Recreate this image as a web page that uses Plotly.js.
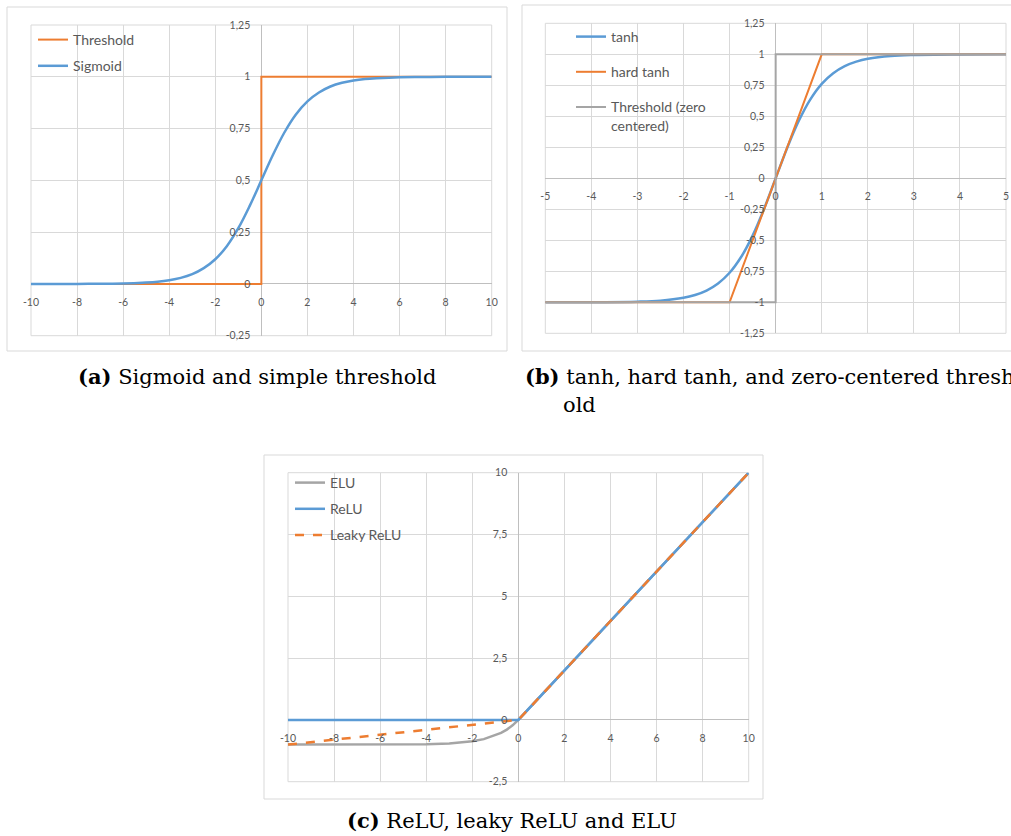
<!DOCTYPE html>
<html><head><meta charset="utf-8">
<script src="https://cdn.plot.ly/plotly-3.0.1.min.js"></script>
<style>html,body{margin:0;padding:0;background:#fff}#chart{width:1011px;height:836px}</style>
</head><body><div id="chart"></div>
<script>
// ---- data ----
// (a) sigmoid and threshold
const sigX = [-10,-9,-8,-7,-6,-5,-4.5,-4,-3.5,-3,-2.5,-2,-1.5,-1,-0.5,0,0.5,1,1.5,2,2.5,3,3.5,4,4.5,5,6,7,8,9,10];
const sigY = [0,0,0,0.001,0.002,0.007,0.011,0.018,0.029,0.047,0.076,0.119,0.182,0.269,0.378,0.5,0.622,0.731,0.818,0.881,0.924,0.953,0.971,0.982,0.989,0.993,0.998,0.999,1,1,1];
const thrX = [-10,0,0,10];
const thrY = [0,0,1,1];
// (b) tanh, hard tanh, zero-centered threshold
const tanhX = [-5,-4,-3,-2.5,-2,-1.75,-1.5,-1.25,-1,-0.75,-0.5,-0.25,0,0.25,0.5,0.75,1,1.25,1.5,1.75,2,2.5,3,4,5];
const tanhY = [-1,-0.999,-0.995,-0.987,-0.964,-0.941,-0.905,-0.848,-0.762,-0.635,-0.462,-0.245,0,0.245,0.462,0.635,0.762,0.848,0.905,0.941,0.964,0.987,0.995,0.999,1];
const hardX = [-5,-1,1,5];
const hardY = [-1,-1,1,1];
const zthrX = [-5,0,0,5];
const zthrY = [-1,-1,1,1];
// (c) ReLU, leaky ReLU, ELU
const eluX = [-10,-8,-6,-5,-4,-3,-2.5,-2,-1.5,-1,-0.75,-0.5,-0.25,0,10];
const eluY = [-1,-1,-0.998,-0.993,-0.982,-0.95,-0.918,-0.865,-0.777,-0.632,-0.528,-0.393,-0.221,0,10];
const reluX = [-10,0,10];
const reluY = [0,0,10];
const leakyX = [-10,0,10];
const leakyY = [-1,0,10];
// tick values and labels
const tickA_x = [-10,-8,-6,-4,-2,0,2,4,6,8,10];
const tickA_xText = ['-10','-8','-6','-4','-2','0','2','4','6','8','10'];
const tickA_y = [-0.25,0,0.25,0.5,0.75,1,1.25];
const tickA_yText = ['-0,25','0','0,25','0,5','0,75','1','1,25'];
const tickB_x = [-5,-4,-3,-2,-1,0,1,2,3,4,5];
const tickB_xText = ['-5','-4','-3','-2','-1','0','1','2','3','4','5'];
const tickB_y = [-1.25,-1,-0.75,-0.5,-0.25,0,0.25,0.5,0.75,1,1.25];
const tickB_yText = ['-1,25','-1','-0,75','-0,5','-0,25','0','0,25','0,5','0,75','1','1,25'];
const tickC_x = [-10,-8,-6,-4,-2,0,2,4,6,8,10];
const tickC_xText = ['-10','-8','-6','-4','-2','0','2','4','6','8','10'];
const tickC_y = [-2.5,0,2.5,5,7.5,10];
const tickC_yText = ['-2,5','0','2,5','5','7,5','10'];
// legend names and captions
const namesA = ['Threshold','Sigmoid'];
const namesB = ['tanh','hard tanh','Threshold (zero<br>centered)'];
const namesC = ['ELU','ReLU','Leaky ReLU'];
const captions = ['<b>(a)</b> Sigmoid and simple threshold','<b>(b)</b> tanh, hard tanh, and zero-centered thresh','old','<b>(c)</b> ReLU, leaky ReLU and ELU'];

// ---- layout ----
const W = 1011, H = 836;
const px = v => v / W, py = v => 1 - v / H;
const BLUE = '#5B9BD5', ORANGE = '#ED7D31', GRAY = '#A5A5A5';
const tickFont = {family:'Lato, "Open Sans", sans-serif', size:10.5, color:'#595959'};
const legFont = {family:'Lato, "Open Sans", sans-serif', size:14, color:'#595959'};

function axes(xdom, ydom, xr, yr, xv, xt, yv, yt) {
  const xpos = ydom[0] + (0 - yr[0]) / (yr[1] - yr[0]) * (ydom[1] - ydom[0]);
  const ypos = xdom[0] + (0 - xr[0]) / (xr[1] - xr[0]) * (xdom[1] - xdom[0]);
  const common = {anchor:'free', showgrid:true, gridcolor:'#D9D9D9', gridwidth:1, zeroline:true, zerolinecolor:'#BFBFBF',
    zerolinewidth:1, showline:false, ticks:'outside', tickcolor:'rgba(0,0,0,0)', tickfont:tickFont, fixedrange:true, tickmode:'array'};
  return [
    Object.assign({}, common, {domain:xdom, range:xr, position:xpos, tickvals:xv, ticktext:xt, ticklen:8}),
    Object.assign({}, common, {domain:ydom, range:yr, position:ypos, tickvals:yv, ticktext:yt, ticklen:9})
  ];
}
const [xa, ya] = axes([px(31), px(491.7)], [py(335.7), py(25)], [-10,10], [-0.25,1.25], tickA_x, tickA_xText, tickA_y, tickA_yText);
const [xb, yb] = axes([px(545.3), px(1006)], [py(333.3), py(23.3)], [-5,5], [-1.25,1.25], tickB_x, tickB_xText, tickB_y, tickB_yText);
const [xc, yc] = axes([px(288), px(748.7)], [py(781.7), py(472.7)], [-10,10], [-2.5,10], tickC_x, tickC_xText, tickC_y, tickC_yText);

const traces = [
  {x:thrX, y:thrY, name:namesA[0], mode:'lines', line:{color:ORANGE, width:2}, xaxis:'x', yaxis:'y', legend:'legend', legendgroup:'a1'},
  {x:sigX, y:sigY, name:namesA[1], mode:'lines', line:{color:BLUE, width:2.5, shape:'spline'}, xaxis:'x', yaxis:'y', legend:'legend', legendgroup:'a2'},
  {x:tanhX, y:tanhY, name:namesB[0], mode:'lines', line:{color:BLUE, width:2.5, shape:'spline'}, xaxis:'x2', yaxis:'y2', legend:'legend2', legendgroup:'b1'},
  {x:hardX, y:hardY, name:namesB[1], mode:'lines', line:{color:ORANGE, width:2}, xaxis:'x2', yaxis:'y2', legend:'legend2', legendgroup:'b2'},
  {x:zthrX, y:zthrY, name:namesB[2], mode:'lines', line:{color:GRAY, width:2}, xaxis:'x2', yaxis:'y2', legend:'legend2', legendgroup:'b3'},
  {x:eluX, y:eluY, name:namesC[0], mode:'lines', line:{color:GRAY, width:2.5}, xaxis:'x3', yaxis:'y3', legend:'legend3', legendgroup:'c1'},
  {x:reluX, y:reluY, name:namesC[1], mode:'lines', line:{color:BLUE, width:2.5}, xaxis:'x3', yaxis:'y3', legend:'legend3', legendgroup:'c2'},
  {x:leakyX, y:leakyY, name:namesC[2], mode:'lines', line:{color:ORANGE, width:2.5, dash:'dash'}, xaxis:'x3', yaxis:'y3', legend:'legend3', legendgroup:'c3'}
];

const legBase = {font:legFont, bgcolor:'rgba(0,0,0,0)', borderwidth:0, xanchor:'left', yanchor:'top', traceorder:'grouped', itemwidth:30, valign:'top'};
const capFont = {family:'"DejaVu Serif", "Liberation Serif", serif', size:21, color:'#000'};

const layout = {
  width:W, height:H, margin:{l:0,r:0,t:0,b:0}, paper_bgcolor:'#fff', plot_bgcolor:'#fff',
  showlegend:true,
  xaxis:xa, yaxis:ya, xaxis2:xb, yaxis2:yb, xaxis3:xc, yaxis3:yc,
  legend:Object.assign({}, legBase, {x:px(33), y:py(24), tracegroupgap:5}),
  legend2:Object.assign({}, legBase, {x:px(571), y:py(21), tracegroupgap:14}),
  legend3:Object.assign({}, legBase, {x:px(290), y:py(467), tracegroupgap:5}),
  shapes:[
    {type:'rect', xref:'paper', yref:'paper', x0:px(7), x1:px(507), y0:py(351), y1:py(7), line:{color:'#D9D9D9', width:1}},
    {type:'rect', xref:'paper', yref:'paper', x0:px(522), x1:px(1016), y0:py(351), y1:py(5), line:{color:'#D9D9D9', width:1}},
    {type:'rect', xref:'paper', yref:'paper', x0:px(264), x1:px(763), y0:py(799), y1:py(455), line:{color:'#D9D9D9', width:1}},
    {type:'rect', xref:'x domain', yref:'y domain', x0:0, x1:1, y0:0, y1:1, line:{color:'#D9D9D9', width:1}, layer:'below'},
    {type:'rect', xref:'x2 domain', yref:'y2 domain', x0:0, x1:1, y0:0, y1:1, line:{color:'#D9D9D9', width:1}, layer:'below'},
    {type:'rect', xref:'x3 domain', yref:'y3 domain', x0:0, x1:1, y0:0, y1:1, line:{color:'#D9D9D9', width:1}, layer:'below'}
  ],
  annotations:[
    {text:captions[0], xref:'paper', yref:'paper', x:px(257), y:py(376), xanchor:'center', yanchor:'middle', showarrow:false, font:capFont},
    {text:captions[1], xref:'paper', yref:'paper', x:px(523), y:py(376), xanchor:'left', yanchor:'middle', showarrow:false, font:capFont},
    {text:captions[2], xref:'paper', yref:'paper', x:px(561), y:py(405), xanchor:'left', yanchor:'middle', showarrow:false, font:capFont},
    {text:captions[3], xref:'paper', yref:'paper', x:px(512), y:py(820), xanchor:'center', yanchor:'middle', showarrow:false, font:capFont}
  ]
};
Plotly.newPlot('chart', traces, layout, {staticPlot:true, displayModeBar:false});
</script></body></html>
